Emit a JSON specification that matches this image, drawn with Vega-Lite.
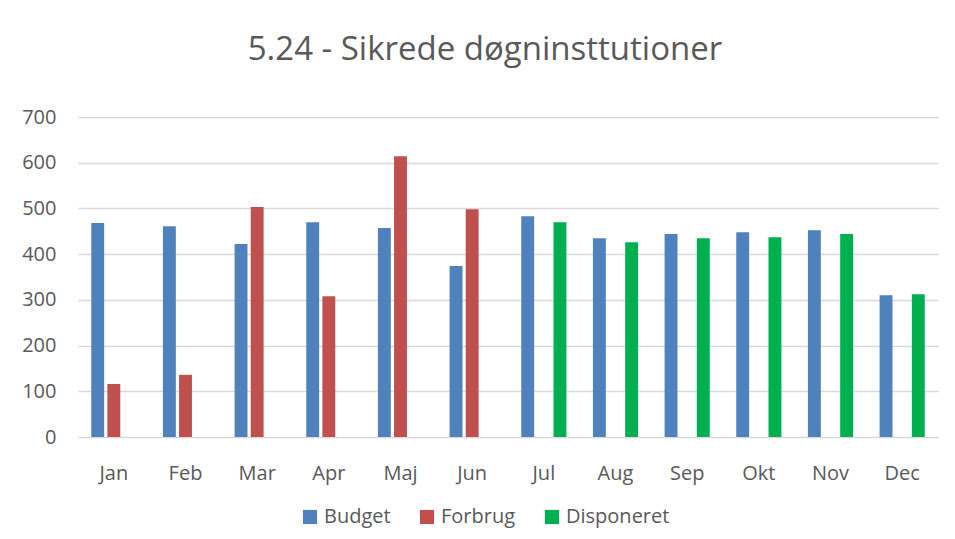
{
  "$schema": "https://vega.github.io/schema/vega-lite/v6.json",
  "width": 860,
  "height": 320,
  "autosize": {"type": "none"},
  "padding": {"left": 78, "top": 117, "right": 17, "bottom": 102},
  "background": "white",
  "title": {
    "text": "5.24 - Sikrede døgninsttutioner",
    "font": "Open Sans",
    "fontSize": 33,
    "fontWeight": "normal",
    "color": "#595959",
    "anchor": "middle",
    "dx": -23,
    "offset": 40
  },
  "config": {
    "view": {"stroke": null},
    "font": "Open Sans"
  },
  "data": {
    "values": [
      {"month": "Jan", "series": "Budget", "value": 468},
      {"month": "Jan", "series": "Forbrug", "value": 116},
      {"month": "Feb", "series": "Budget", "value": 461},
      {"month": "Feb", "series": "Forbrug", "value": 136},
      {"month": "Mar", "series": "Budget", "value": 422},
      {"month": "Mar", "series": "Forbrug", "value": 503},
      {"month": "Apr", "series": "Budget", "value": 470},
      {"month": "Apr", "series": "Forbrug", "value": 308},
      {"month": "Maj", "series": "Budget", "value": 457},
      {"month": "Maj", "series": "Forbrug", "value": 614},
      {"month": "Jun", "series": "Budget", "value": 374},
      {"month": "Jun", "series": "Forbrug", "value": 498},
      {"month": "Jul", "series": "Budget", "value": 483},
      {"month": "Jul", "series": "Disponeret", "value": 470},
      {"month": "Aug", "series": "Budget", "value": 435},
      {"month": "Aug", "series": "Disponeret", "value": 426},
      {"month": "Sep", "series": "Budget", "value": 444},
      {"month": "Sep", "series": "Disponeret", "value": 435},
      {"month": "Okt", "series": "Budget", "value": 448},
      {"month": "Okt", "series": "Disponeret", "value": 437},
      {"month": "Nov", "series": "Budget", "value": 452},
      {"month": "Nov", "series": "Disponeret", "value": 444},
      {"month": "Dec", "series": "Budget", "value": 310},
      {"month": "Dec", "series": "Disponeret", "value": 312}
    ]
  },
  "mark": {"type": "bar"},
  "encoding": {
    "x": {
      "field": "month",
      "type": "nominal",
      "sort": ["Jan","Feb","Mar","Apr","Maj","Jun","Jul","Aug","Sep","Okt","Nov","Dec"],
      "scale": {"paddingInner": 0.37, "paddingOuter": 0.185},
      "axis": {
        "title": null,
        "labelAngle": 0,
        "labelFontSize": 20,
        "labelColor": "#595959",
        "labelPadding": 26,
        "ticks": false,
        "domain": false,
        "grid": false
      }
    },
    "xOffset": {
      "field": "series",
      "type": "nominal",
      "scale": {"domain": ["Budget","Forbrug","Disponeret"], "paddingInner": 0.2}
    },
    "y": {
      "field": "value",
      "type": "quantitative",
      "scale": {"domain": [0, 700]},
      "axis": {
        "title": null,
        "values": [0,100,200,300,400,500,600,700],
        "labelFontSize": 20,
        "labelColor": "#595959",
        "labelPadding": 22,
        "ticks": false,
        "domain": false,
        "gridColor": "#d9d9d9",
        "gridWidth": 1.5
      }
    },
    "color": {
      "field": "series",
      "type": "nominal",
      "scale": {"domain": ["Budget","Forbrug","Disponeret"], "range": ["#4F81BD","#C0504D","#00B050"]},
      "legend": {
        "title": null,
        "orient": "none",
        "legendX": 222,
        "legendY": 390,
        "direction": "horizontal",
        "symbolType": "square",
        "symbolSize": 200,
        "symbolStrokeWidth": 0,
        "symbolOpacity": 1,
        "labelFontSize": 20,
        "labelColor": "#595959",
        "columnPadding": 26
      }
    }
  }
}
